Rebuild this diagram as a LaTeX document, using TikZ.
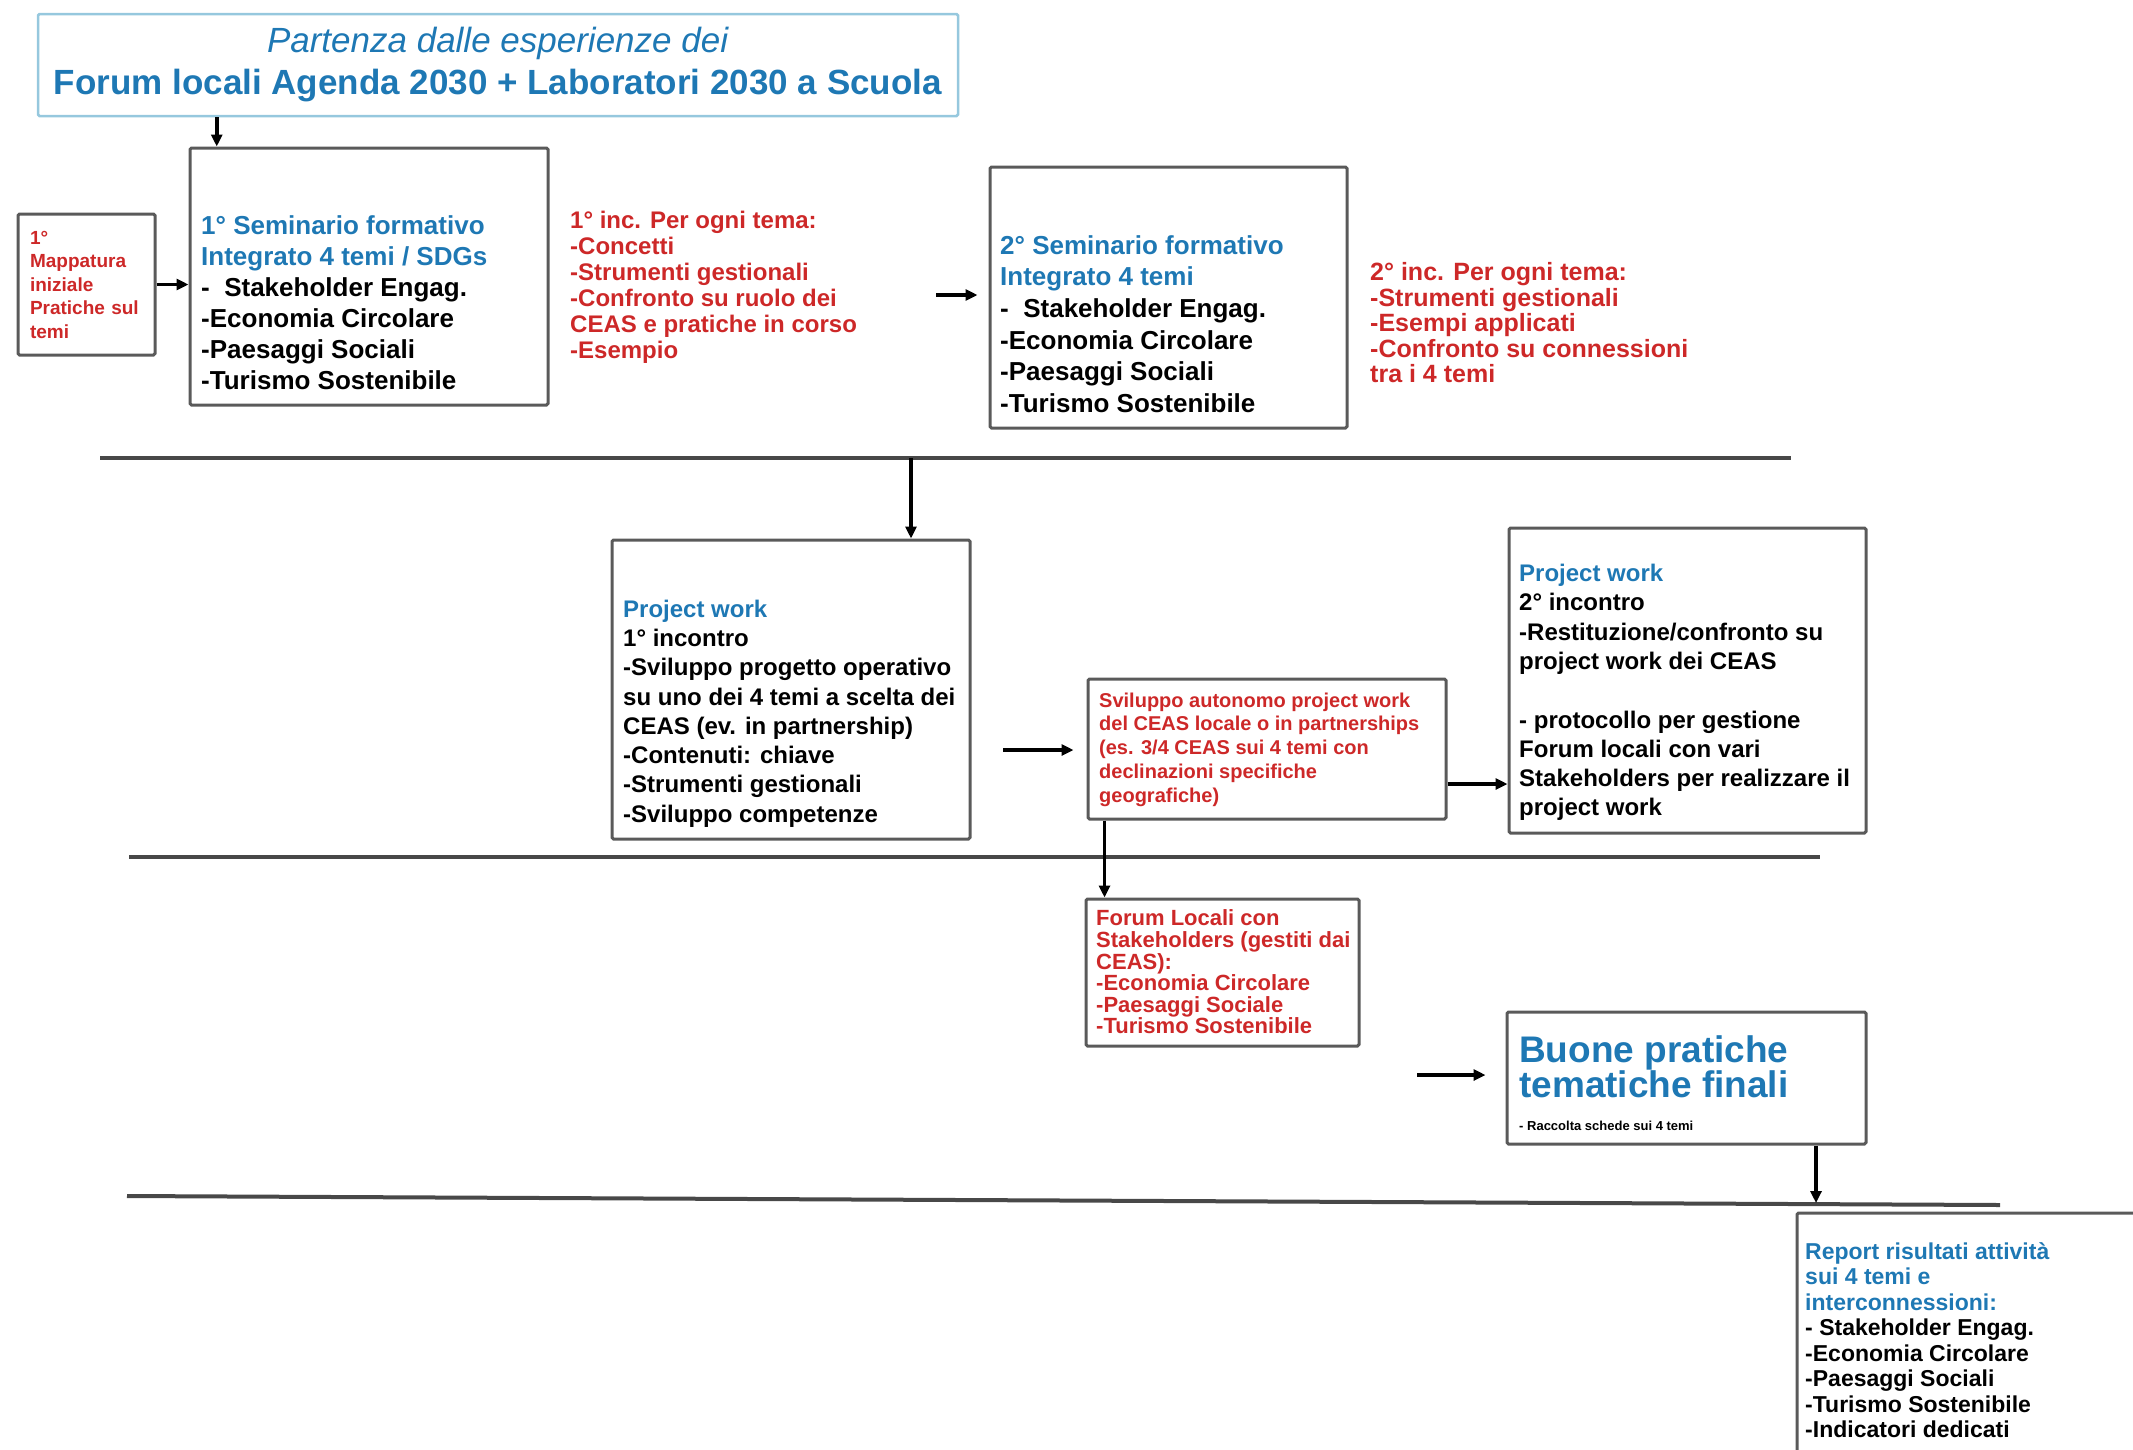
\documentclass[tikz,border=0pt]{standalone}
\usepackage{fontspec}
\setmainfont{Liberation Sans}
\usetikzlibrary{arrows.meta, positioning}

\definecolor{ceasblue}{RGB}{30,120,180}
\definecolor{ceasred}{RGB}{205,40,40}
\definecolor{boxgray}{RGB}{90,90,90}
\definecolor{titleline}{RGB}{150,200,222}
\newcommand{\hd}[1]{\textcolor{ceasblue}{#1}}

\tikzset{
  box/.style={draw=boxgray, line width=3pt, rounded corners=1.5pt, inner sep=0pt},
  arr/.style={-{Triangle[length=12pt,width=11pt]}, line width=3.5pt},
  sepline/.style={line width=4pt, draw=boxgray!80!black},
  txt/.style={anchor=west, align=left, inner sep=0pt},
  semtxt/.style={txt, font=\bfseries\fontsize{26}{31}\selectfont},
  pwtxt/.style={txt, font=\bfseries\fontsize{24}{29.3}\selectfont},
  redtxt/.style={txt, text=ceasred, font=\bfseries\fontsize{24}{26}\selectfont},
}

\begin{document}
\begin{tikzpicture}[x=1pt, y=-1pt]
    \useasboundingbox (0,0) rectangle (2133,1449);

    \node[box, draw=titleline, line width=2.5pt, minimum width=920pt, minimum height=102pt, text=ceasblue, align=center, font=\fontsize{35}{42}\selectfont] (title) at (498,65) {\textit{Partenza dalle esperienze dei}\\\textbf{Forum locali Agenda 2030 + Laboratori 2030 a Scuola}};

    \node[box, minimum width=137pt, minimum height=141pt, text width=113pt, align=left, text=ceasred, font=\bfseries\fontsize{19}{23.5}\selectfont] (mapp) at (86.5,284.5) {1°\\Mappatura\\iniziale\\Pratiche sul\\temi};

    \node[box, minimum width=358pt, minimum height=257pt] (sem1) at (369,276.5) {};
    \node[semtxt] (sem1txt) at (201,302.5) {\hd{1° Seminario formativo}\\\hd{Integrato 4 temi / SDGs}\\-~~Stakeholder Engag.\\-Economia Circolare\\-Paesaggi Sociali\\-Turismo Sostenibile};

    \node[redtxt] (inc1) at (570,287) {1° inc. Per ogni tema:\\-Concetti\\-Strumenti gestionali\\-Confronto su ruolo dei\\CEAS e pratiche in corso\\-Esempio};

    \node[box, minimum width=357pt, minimum height=261pt] (sem2) at (1168.5,297.5) {};
    \node[semtxt, font=\bfseries\fontsize{26}{31.6}\selectfont] (sem2txt) at (1000,324) {\hd{2° Seminario formativo}\\\hd{Integrato 4 temi}\\-~~Stakeholder Engag.\\-Economia Circolare\\-Paesaggi Sociali\\-Turismo Sostenibile};

    \node[redtxt, font=\bfseries\fontsize{25}{25.5}\selectfont] (inc2) at (1370,323) {2° inc. Per ogni tema:\\-Strumenti gestionali\\-Esempi applicati\\-Confronto su connessioni\\tra i 4 temi};

    \coordinate (t1) at ([xshift=180pt]title.south west);
    \draw[arr] (t1) -- (t1 |- sem1.north);
    \draw[arr] (mapp.east) -- (mapp.east -| sem1.west);
    \coordinate (a1) at (936,295);
    \draw[arr, shorten >=11pt] (a1) -- (a1 -| sem2.west);

    \draw[sepline] (100,458) -- (1791,458);
    \coordinate (l1) at (911,458);

    \node[box, minimum width=358pt, minimum height=299pt] (pw1) at (791,689.5) {};
    \node[pwtxt] (pw1txt) at (623,713.5) {\hd{Project work}\\1° incontro\\-Sviluppo progetto operativo\\su uno dei 4 temi a scelta dei\\CEAS (ev. in partnership)\\-Contenuti: chiave\\-Strumenti gestionali\\-Sviluppo competenze};
    \draw[arr] (l1) -- (l1 |- pw1.north);

    \node[box, minimum width=358pt, minimum height=140pt] (svil) at (1267,749) {};
    \node[redtxt, font=\bfseries\fontsize{20}{23.75}\selectfont] (sviltxt) at (1099,749.5) {Sviluppo autonomo project work\\del CEAS locale o in partnerships\\(es. 3/4 CEAS sui 4 temi con\\declinazioni specifiche\\geografiche)};
    \coordinate (a2) at (1003,750);
    \draw[arr, shorten >=13pt] (a2) -- (a2 -| svil.west);

    \node[box, minimum width=357pt, minimum height=305pt] (pw2) at (1687.5,680.5) {};
    \node[pwtxt] (pw2txt) at (1519,692.5) {\hd{Project work}\\2° incontro\\-Restituzione/confronto su\\project work dei CEAS\\[29.3pt]- protocollo per gestione\\Forum locali con vari\\Stakeholders per realizzare il\\project work};
    \coordinate (a3) at ([yshift=-35pt]svil.east);
    \draw[arr] (a3) -- (a3 -| pw2.west);

    \draw[sepline] (129,857) -- (1820,857);

    \node[box, minimum width=273pt, minimum height=147pt] (forum) at (1222.5,972.5) {};
    \node[redtxt, font=\bfseries\fontsize{22}{21.6}\selectfont] (forumtxt) at (1096,972) {Forum Locali con\\Stakeholders (gestiti dai\\CEAS):\\-Economia Circolare\\-Paesaggi Sociale\\-Turismo Sostenibile};
    \coordinate (a4) at ([xshift=18pt]svil.south west);
    \draw[arr] (a4) -- (a4 |- forum.north);

    \node[box, minimum width=359pt, minimum height=132pt] (bp) at (1686.5,1078) {};
    \node[txt, text=ceasblue, font=\bfseries\fontsize{37}{34}\selectfont] (bptxt) at (1519,1067) {Buone pratiche\\tematiche finali};
    \node[txt, font=\bfseries\fontsize{13}{15}\selectfont] (bpnote) at (1519,1126) {- Raccolta schede sui 4 temi};
    \coordinate (a5) at (1417,1075);
    \draw[arr, shorten >=20pt] (a5) -- (a5 -| bp.west);

    \draw[sepline] (127,1196) -- (2000,1205);
    \coordinate (l3) at (1816,1203);
    \draw[arr] (l3 |- bp.south) -- (l3);

    \node[box, minimum width=403pt, minimum height=287pt] (report) at (1998.5,1356.5) {};
    \node[txt, font=\bfseries\fontsize{23}{25.5}\selectfont] (reporttxt) at (1805,1340) {\hd{Report risultati attività}\\\hd{sui 4 temi e}\\\hd{interconnessioni:}\\- Stakeholder Engag.\\-Economia Circolare\\-Paesaggi Sociali\\-Turismo Sostenibile\\-Indicatori dedicati};
\end{tikzpicture}
\end{document}
